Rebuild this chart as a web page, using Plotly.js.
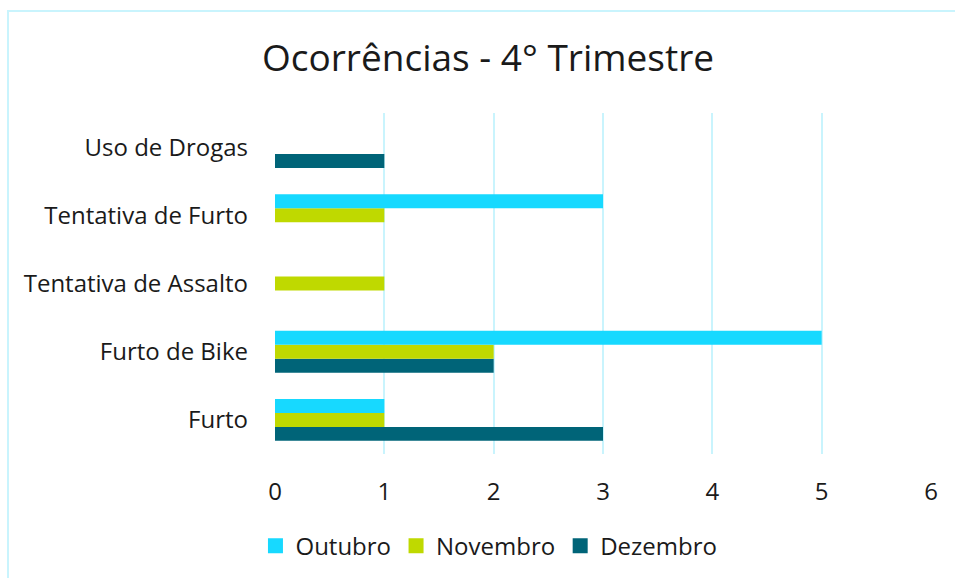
<!DOCTYPE html>
<html>
<head>
<meta charset="utf-8">
<script src="https://cdn.plot.ly/plotly-3.0.1.min.js"></script>
<style>
html,body{margin:0;padding:0;background:#fff;}
#chart{width:955px;height:578px;}
#frame{position:absolute;left:7px;top:10px;width:970px;height:600px;border:2px solid #c9f4fd;pointer-events:none;box-sizing:border-box;}
</style>
</head>
<body>
<div id="chart"></div>
<div id="frame"></div>
<script>
const categories = ["Furto", "Furto de Bike", "Tentativa de Assalto", "Tentativa de Furto", "Uso de Drogas"];
const seriesNames = ["Outubro", "Novembro", "Dezembro"];
const seriesColors = ["#17d9ff", "#bfd900", "#006478"];
const outubro  = [1, 5, 0, 3, 0];
const novembro = [1, 2, 1, 1, 0];
const dezembro = [3, 2, 0, 0, 1];
const xTicks = [0, 1, 2, 3, 4, 5, 6];

const values = [outubro, novembro, dezembro];
const traces = [];
// bars: drawn in reverse so Outubro sits on top within each group
for (let i = values.length - 1; i >= 0; i--) {
  traces.push({type:'bar', orientation:'h', name:seriesNames[i], y:categories, x:values[i],
    marker:{color:seriesColors[i]}, showlegend:false});
}
// legend entries with larger square symbols
for (let i = 0; i < values.length; i++) {
  traces.push({type:'scatter', mode:'markers', name:seriesNames[i], x:[null], y:[null],
    marker:{symbol:'square', size:15, color:seriesColors[i]}, showlegend:true});
}

const layout = {
  width:955, height:578,
  margin:{l:275, r:24, t:113, b:124},
  paper_bgcolor:'#fff', plot_bgcolor:'#fff',
  font:{family:'"Open Sans", sans-serif', color:'#1a1a1a', size:24},
  title:{text:'Ocorrências - 4° Trimestre', font:{size:37, color:'#1a1a1a'}, x:0.511, xref:'container', xanchor:'center', y:0.9, yref:'container', yanchor:'middle'},
  barmode:'group', bargap:0.385, bargroupgap:0,
  xaxis:{range:[0,6], tickvals:xTicks, ticktext:xTicks.map(String), showgrid:true, gridcolor:'#c9f4fd', gridwidth:2, zeroline:false, showline:false, ticks:'', ticklabelstandoff:21, tickfont:{size:24}},
  yaxis:{type:'category', categoryarray:categories, range:[-0.5,4.5], showgrid:false, zeroline:false, showline:false, ticks:'', ticklabelstandoff:26, tickfont:{size:24}},
  legend:{orientation:'h', xref:'container', yref:'container', x:0.512, xanchor:'center', y:0.055, yanchor:'middle', font:{size:24}, itemwidth:30, tracegroupgap:0},
  showlegend:true
};

Plotly.newPlot('chart', traces, layout, {displayModeBar:false, staticPlot:true});
</script>
</body>
</html>
